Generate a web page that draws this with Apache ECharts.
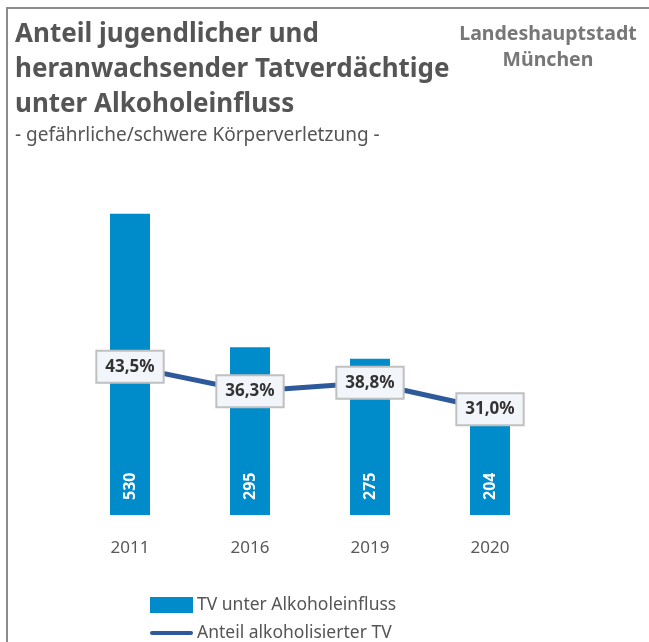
<!DOCTYPE html>
<html>
<head>
<meta charset="utf-8">
<script src="https://cdn.jsdelivr.net/npm/echarts@6/dist/echarts.min.js"></script>
<style>
  html, body { margin: 0; padding: 0; background: #fff; }
  #chart { width: 649px; height: 642px; }
</style>
</head>
<body>
<div id="chart"></div>
<script>
const years = ['2011', '2016', '2019', '2020'];
const tvAlkohol = [530, 295, 275, 204];
const anteilAlkohol = [43.5, 36.3, 38.8, 31.0];

const font = '"Noto Sans", sans-serif';

const chart = echarts.init(document.getElementById('chart'));

const option = {
    backgroundColor: '#fff',
    textStyle: { fontFamily: font },
    title: [
        {
            text: 'Anteil jugendlicher und\nheranwachsender Tatverdächtige\nunter Alkoholeinfluss',
            subtext: '- gefährliche/schwere Körperverletzung -',
            left: 10,
            top: 12,
            itemGap: 4,
            textStyle: { fontFamily: font, fontSize: 26, fontWeight: 'bold', color: '#555', lineHeight: 35 },
            subtextStyle: { fontFamily: font, fontSize: 19, color: '#555' }
        },
        {
            text: 'Landeshauptstadt\nMünchen',
            left: 543,
            top: 16,
            textAlign: 'center',
            textStyle: { fontFamily: font, fontSize: 19.5, fontWeight: 'bold', color: '#777', lineHeight: 26, align: 'center' }
        }
    ],
    graphic: [
        { type: 'line', shape: { x1: 6, y1: 8, x2: 649, y2: 8 }, style: { stroke: '#8c8c8c', lineWidth: 2 } },
        { type: 'line', shape: { x1: 7, y1: 8, x2: 7, y2: 642 }, style: { stroke: '#8c8c8c', lineWidth: 2 } }
    ],
    legend: {
        orient: 'vertical',
        left: 150,
        top: 596,
        padding: 0,
        itemGap: 10,
        itemWidth: 43,
        itemHeight: 16,
        textStyle: { fontFamily: font, fontSize: 17.5, color: '#555', padding: [0, 0, 0, -1] },
        data: [
            { name: 'TV unter Alkoholeinfluss', icon: 'rect' },
            { name: 'Anteil alkoholisierter TV', icon: 'path://M0,0 M43,16 M2,6 L41,6 A2,2 0 0 1 41,10 L2,10 A2,2 0 0 1 2,6 Z' }
        ]
    },
    grid: {
        left: 70,
        right: 99,
        top: 174,
        bottom: 127
    },
    xAxis: {
        type: 'category',
        data: years,
        axisLine: { show: false },
        axisTick: { show: false },
        axisLabel: { fontFamily: font, fontSize: 17, color: '#595959', margin: 25 }
    },
    yAxis: [
        { type: 'value', min: 0, max: 600, show: false },
        { type: 'value', min: 0, max: 100, show: false }
    ],
    series: [
        {
            name: 'TV unter Alkoholeinfluss',
            type: 'bar',
            data: tvAlkohol,
            barWidth: 40,
            itemStyle: { color: '#008bca' },
            label: {
                show: true,
                position: 'insideBottom',
                rotate: 90,
                align: 'left',
                verticalAlign: 'middle',
                distance: 15,
                color: '#fff',
                fontFamily: font,
                fontSize: 16,
                fontWeight: 'bold'
            },
            z: 2
        },
        {
            name: 'Anteil alkoholisierter TV',
            type: 'line',
            yAxisIndex: 1,
            data: anteilAlkohol,
            symbol: 'circle',
            symbolSize: 0.1,
            showSymbol: true,
            lineStyle: { color: '#2e5a9b', width: 5, cap: 'round' },
            itemStyle: { color: '#2e5a9b' },
            label: {
                show: true,
                position: 'inside',
                formatter: p => p.value.toFixed(1).replace('.', ',') + '%',
                fontFamily: font,
                fontSize: 17,
                fontWeight: 'bold',
                color: '#333',
                backgroundColor: '#f2f5f9',
                borderColor: '#c0c0c0',
                borderWidth: 2,
                padding: [7, 8, 6, 8]
            },
            z: 5
        }
    ]
};

chart.setOption(option);
</script>
</body>
</html>
